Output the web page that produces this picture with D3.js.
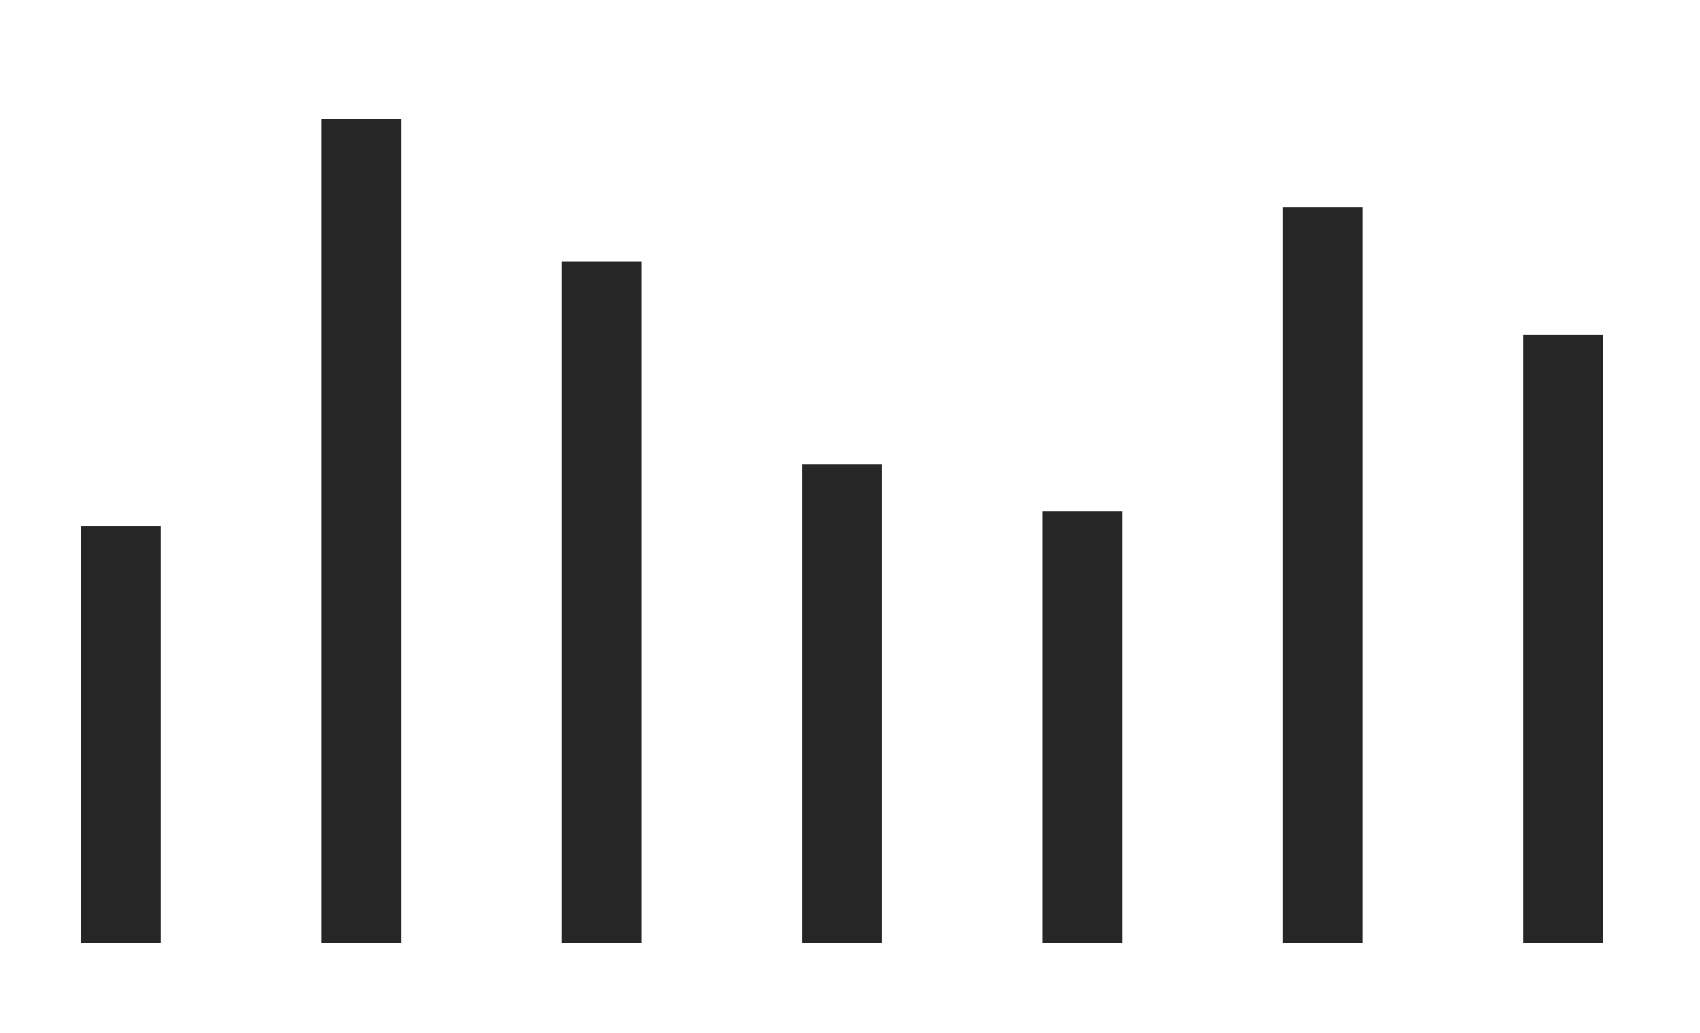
<!DOCTYPE html>
<html>
<head>
<meta charset="utf-8">
<script src="https://cdn.jsdelivr.net/npm/d3@7"></script>
<style>
  html, body { margin: 0; padding: 0; background: #ffffff; }
</style>
</head>
<body>
<div class="chart"></div>
<script>
// values
var categories = ['A', 'B', 'C', 'D', 'E', 'F', 'G'];
var values = [50.6, 100, 82.7, 58.1, 52.4, 89.3, 73.8];

(function() {
  var width = 1700, height = 1033;
  var left = 81, right = 1603, base = 943, top = 119;

  var svg = d3.select('.chart')
    .append('svg')
    .attr('width', width)
    .attr('height', height);

  var x = d3.scaleBand()
    .domain(categories)
    .range([left, right])
    .paddingInner(0.668)
    .paddingOuter(0);

  var y = d3.scaleLinear()
    .domain([0, d3.max(values)])
    .range([base, top]);

  svg.selectAll('rect').data(values).enter()
    .append('rect')
    .attr('x', function(d, i) { return x(categories[i]); })
    .attr('y', function(d) { return y(d); })
    .attr('width', x.bandwidth())
    .attr('height', function(d) { return base - y(d); })
    .attr('fill', '#262626');
})();
</script>
</body>
</html>
